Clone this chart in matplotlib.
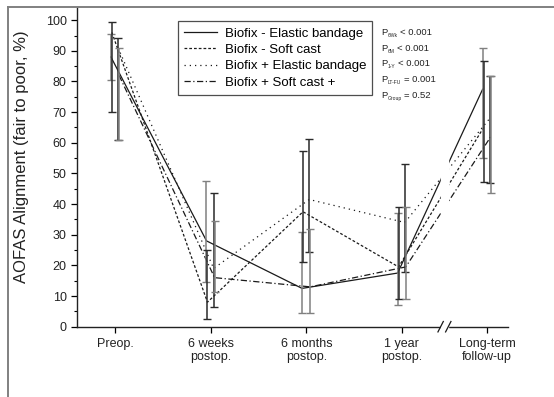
import matplotlib
matplotlib.use("Agg")
import matplotlib.pyplot as plt
from matplotlib.lines import Line2D
from matplotlib.ticker import MultipleLocator

plt.rcParams['font.family'] = ['Liberation Sans', 'DejaVu Sans']

# time points
time_labels = ["Preop.", "6 weeks\npostop.", "6 months\npostop.", "1 year\npostop.", "Long-term\nfollow-up"]

# group means (% fair to poor)
elastic = [88, 28, 12.5, 17.5, 77.5]
soft = [96, 8, 37.5, 19.5, 65]
elastic_plus = [91, 19, 41.5, 34, 68]
soft_plus = [82, 16, 13, 19.5, 62]

# error bar limits (lower, upper)
elastic_lo = [80.5, 14.5, 4.6, 7.1, 54.9]
elastic_hi = [95.5, 47.5, 31, 37.2, 90.8]
soft_lo = [70, 2.4, 21.2, 9, 47.1]
soft_hi = [99.3, 25, 57.3, 39.2, 86.7]
eplus_lo = [61, 6.5, 24.5, 18, 46.8]
eplus_hi = [94.1, 43.5, 61.1, 53.1, 81.9]
splus_lo = [61, 11.4, 4.6, 9, 43.5]
splus_hi = [91, 34.6, 32, 39, 81.9]

series_names = ["Biofix - Elastic bandage", "Biofix - Soft cast",
                "Biofix + Elastic bandage", "Biofix + Soft cast +"]

p_labels = ["6Wk", "6M", "1-Y", "LT-FU", "Group"]
p_values = ["< 0.001", "< 0.001", "< 0.001", "= 0.001", "= 0.52"]

# layout
x_pos = [0, 1, 2, 3, 3.89]
offsets = [-0.045, -0.035, 0.03, 0.04]
styles = ['-', (0, (2.2, 1.6)), (0, (1, 3.2)), (0, (5, 2, 1, 2))]
bar_colors = ['#808080', '#2a2a2a', '#2a2a2a', '#808080']

fig = plt.figure(figsize=(5.54, 3.97), dpi=100)
ax = fig.add_axes([77 / 554, 1 - 326.7 / 397, (508 - 77) / 554, (326.7 - 7) / 397])

means = [elastic, soft, elastic_plus, soft_plus]
lows = [elastic_lo, soft_lo, eplus_lo, splus_lo]
highs = [elastic_hi, soft_hi, eplus_hi, splus_hi]

handles = []
for m, lo, hi, off, ls, bc, name in zip(means, lows, highs, offsets, styles, bar_colors, series_names):
    xs = [x + off for x in x_pos]
    ln, = ax.plot(xs, m, color='#1a1a1a', linestyle=ls, linewidth=0.9, label=name, zorder=2)
    handles.append(ln)
    err = [[a - b for a, b in zip(m, lo)], [b - a for a, b in zip(m, hi)]]
    ax.errorbar(xs, m, yerr=err, fmt='none', ecolor=bc, elinewidth=1.1,
                capsize=2.8, capthick=1.0, zorder=2.2)

# axis break
ax.axvspan(3.405, 3.485, ymin=-0.02, ymax=1, color='white', zorder=3, clip_on=False)
for bx in [3.405, 3.485]:
    ax.plot([bx - 0.028, bx + 0.028], [-1.7, 1.7], color='#1a1a1a', lw=0.9,
            clip_on=False, zorder=4)

ax.set_xlim(-0.4, 4.11)
ax.set_ylim(0, 104.3)
ax.set_xticks(x_pos)
ax.set_xticklabels(time_labels, fontsize=9, color='#222222', linespacing=1.15)
ax.yaxis.set_major_locator(MultipleLocator(10))
ax.yaxis.set_minor_locator(MultipleLocator(5))
ax.set_yticks(range(0, 101, 10))
ax.tick_params(axis='y', labelsize=9, labelcolor='#222222', direction='out', length=4, width=0.9)
ax.tick_params(axis='y', which='minor', direction='out', length=2.3, width=0.8)
ax.tick_params(axis='x', direction='out', length=4, width=0.9, pad=4)

for s in ['top', 'right']:
    ax.spines[s].set_visible(False)
for s in ['left', 'bottom']:
    ax.spines[s].set_linewidth(1.0)
    ax.spines[s].set_color('#222222')

fig.text(22 / 554, 1 - 157 / 397, "AOFAS Alignment (fair to poor, %)", rotation=90,
         ha='center', va='center', fontsize=12, color='#222222')

leg = ax.legend(handles=handles, loc='upper left', bbox_to_anchor=(0.234, 0.955),
                fontsize=9.5, frameon=True, fancybox=False, handlelength=2.5,
                handletextpad=0.6, borderpad=0.45, labelspacing=0.32, borderaxespad=0)
leg.get_frame().set_edgecolor('#222222')
leg.get_frame().set_linewidth(0.9)

# p-values with small subscripts, placed piece by piece
fig.canvas.draw()
renderer = fig.canvas.get_renderer()
for i, (lab, val) in enumerate(zip(p_labels, p_values)):
    y = 1 - (32.5 + i * 15.7) / 397
    tp = fig.text(381 / 554, y, "P", fontsize=6.8, va='center', ha='left', color='#222222')
    x1 = tp.get_window_extent(renderer).x1 / (554)
    ts = fig.text(x1 + 0.5 / 554, y - 3 / 397, lab, fontsize=3.6, va='center', ha='left',
                  color='#222222')
    x2 = ts.get_window_extent(renderer).x1 / (554)
    fig.text(x2 + 2.5 / 554, y, val, fontsize=6.8, va='center', ha='left', color='#222222')

# partial outer frame
fig.add_artist(Line2D([8 / 554, 8 / 554], [0, 1 - 7 / 397], color='#808080', lw=1.4))
fig.add_artist(Line2D([8 / 554, 1], [1 - 7 / 397, 1 - 7 / 397], color='#808080', lw=1.4))

fig.savefig("out.png", dpi=100)
